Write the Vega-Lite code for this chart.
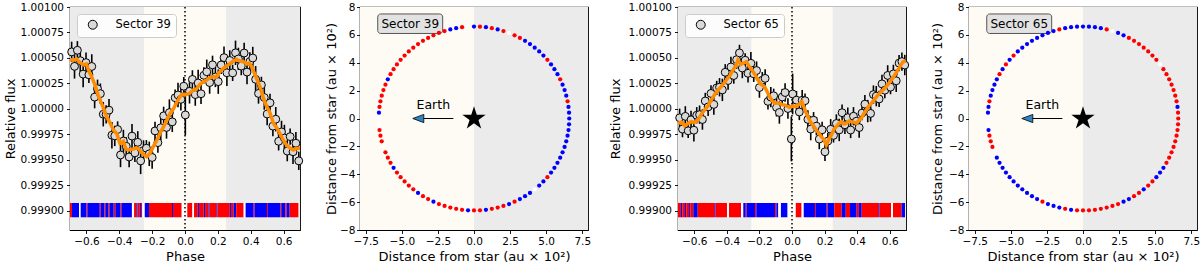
{
"$schema":"https://vega.github.io/schema/vega-lite/v6.json",
"padding":{"left":3,"top":1,"right":0,"bottom":0},
"spacing":16,
"config":{
 "font":"DejaVu Sans",
 "view":{"stroke":"black","strokeWidth":1.2},
 "axis":{"grid":false,"domain":false,"tickColor":"black","tickSize":3.5,"tickWidth":0.9,"labelColor":"black","labelFontSize":10.5,"labelFont":"DejaVu Sans","titleFont":"DejaVu Sans","titleFontSize":13,"titleFontWeight":"normal","titleColor":"black","labelPadding":3,"titlePadding":3,"labelFlush":false,"labelOverlap":false,"labelSeparation":0,"tickCount":30},
 "legend":{"orient":"top-left","offset":7,"padding":5,"fillColor":"rgba(255,255,255,0.85)","strokeColor":"#cccccc","cornerRadius":3,"symbolType":"circle","symbolSize":80,"symbolStrokeColor":"black","symbolStrokeWidth":1,"symbolOffset":5,"labelFontSize":11.5,"labelOffset":17,"labelColor":"black","labelFont":"DejaVu Sans"}
},
"resolve":{"scale":{"color":"independent","fill":"independent"},"legend":{"fill":"independent","color":"independent"}},
"datasets":{
"lc39":[
{"p":-0.69,"f":1.000559,"e":0.0001},{"p":-0.6725,"f":1.000417,"e":0.00012},{"p":-0.655,"f":1.000575,"e":0.00009},{"p":-0.6375,"f":1.000473,"e":0.00011},{"p":-0.62,"f":1.000341,"e":0.00013},{"p":-0.6025,"f":1.000454,"e":0.0001},{"p":-0.585,"f":1.000334,"e":0.00008},{"p":-0.5675,"f":1.000416,"e":0.00012},{"p":-0.55,"f":1.000115,"e":0.00011},{"p":-0.5325,"f":1.000197,"e":0.00009},
{"p":-0.515,"f":1.000149,"e":0.0001},{"p":-0.4975,"f":0.999947,"e":0.00012},{"p":-0.48,"f":0.999945,"e":0.00009},{"p":-0.4625,"f":0.999987,"e":0.00011},{"p":-0.445,"f":0.999741,"e":0.00013},{"p":-0.4275,"f":0.999734,"e":0.0001},{"p":-0.41,"f":0.999797,"e":0.00008},{"p":-0.3925,"f":0.999547,"e":0.00012},{"p":-0.375,"f":0.999684,"e":0.00011},{"p":-0.3575,"f":0.999632,"e":0.00009},
{"p":-0.34,"f":0.999527,"e":0.0001},{"p":-0.3225,"f":0.999732,"e":0.00012},{"p":-0.305,"f":0.999567,"e":0.00009},{"p":-0.2875,"f":0.999671,"e":0.00011},{"p":-0.27,"f":0.999489,"e":0.00013},{"p":-0.2525,"f":0.999591,"e":0.0001},{"p":-0.235,"f":0.999613,"e":0.00008},{"p":-0.2175,"f":0.999558,"e":0.00012},{"p":-0.2,"f":0.999522,"e":0.00011},{"p":-0.1825,"f":0.999783,"e":0.00009},
{"p":-0.165,"f":0.999668,"e":0.0001},{"p":-0.1475,"f":0.999814,"e":0.00012},{"p":-0.13,"f":0.999931,"e":0.00009},{"p":-0.1125,"f":0.999817,"e":0.00011},{"p":-0.095,"f":0.999963,"e":0.00013},{"p":-0.0775,"f":0.999872,"e":0.0001},{"p":-0.06,"f":1.000109,"e":0.00008},{"p":-0.0425,"f":1.000136,"e":0.00012},{"p":-0.025,"f":1.000093,"e":0.00011},{"p":-0.0075,"f":1.000222,"e":0.00009},
{"p":0.002,"f":0.99994,"e":0.0002},{"p":0.0275,"f":1.000172,"e":0.00012},{"p":0.045,"f":1.000289,"e":0.00009},{"p":0.0625,"f":1.00014,"e":0.00011},{"p":0.08,"f":1.000254,"e":0.00013},{"p":0.0975,"f":1.000148,"e":0.0001},{"p":0.115,"f":1.000329,"e":0.00008},{"p":0.1325,"f":1.000364,"e":0.00012},{"p":0.15,"f":1.000258,"e":0.00011},{"p":0.1675,"f":1.000432,"e":0.00009},
{"p":0.185,"f":1.000313,"e":0.0001},{"p":0.2025,"f":1.000267,"e":0.00012},{"p":0.22,"f":1.000431,"e":0.00009},{"p":0.2375,"f":1.000503,"e":0.00011},{"p":0.255,"f":1.000354,"e":0.00013},{"p":0.2725,"f":1.000475,"e":0.0001},{"p":0.29,"f":1.000353,"e":0.00008},{"p":0.3075,"f":1.00055,"e":0.00012},{"p":0.325,"f":1.00049,"e":0.00011},{"p":0.3425,"f":1.00042,"e":0.00009},
{"p":0.36,"f":1.000548,"e":0.0001},{"p":0.3775,"f":1.000361,"e":0.00012},{"p":0.395,"f":1.000465,"e":0.00009},{"p":0.4125,"f":1.000499,"e":0.00011},{"p":0.43,"f":1.00029,"e":0.00013},{"p":0.4475,"f":1.000151,"e":0.0001},{"p":0.465,"f":1.000235,"e":0.00008},{"p":0.4825,"f":1.000111,"e":0.00012},{"p":0.5,"f":0.999949,"e":0.00011},{"p":0.5175,"f":1.000059,"e":0.00009},
{"p":0.535,"f":0.99983,"e":0.0001},{"p":0.5525,"f":0.999898,"e":0.00012},{"p":0.57,"f":0.999681,"e":0.00009},{"p":0.5875,"f":0.999773,"e":0.00011},{"p":0.605,"f":0.999713,"e":0.00013},{"p":0.6225,"f":0.999585,"e":0.0001},{"p":0.64,"f":0.999727,"e":0.00008},{"p":0.6575,"f":0.999578,"e":0.00012},{"p":0.675,"f":0.999662,"e":0.00011},{"p":0.6925,"f":0.999489,"e":0.00009}
],
"lc65":[
{"p":-0.69,"f":0.999912,"e":0.00009},{"p":-0.6725,"f":0.999801,"e":0.00008},{"p":-0.655,"f":0.999926,"e":0.0001},{"p":-0.6375,"f":0.999784,"e":0.00007},{"p":-0.62,"f":0.999892,"e":0.00009},{"p":-0.6025,"f":0.99979,"e":0.00011},{"p":-0.585,"f":0.999937,"e":0.00008},{"p":-0.5675,"f":0.999943,"e":0.00009},{"p":-0.55,"f":0.999895,"e":0.0001},{"p":-0.5325,"f":1.000077,"e":0.00008},
{"p":-0.515,"f":1.000019,"e":0.00009},{"p":-0.4975,"f":1.000151,"e":0.00008},{"p":-0.48,"f":1.000043,"e":0.0001},{"p":-0.4625,"f":1.000205,"e":0.00007},{"p":-0.445,"f":1.000212,"e":0.00009},{"p":-0.4275,"f":1.000186,"e":0.00011},{"p":-0.41,"f":1.000359,"e":0.00008},{"p":-0.3925,"f":1.000278,"e":0.00009},{"p":-0.375,"f":1.000411,"e":0.0001},{"p":-0.3575,"f":1.000327,"e":0.00008},
{"p":-0.34,"f":1.000483,"e":0.00009},{"p":-0.3225,"f":1.000549,"e":0.00008},{"p":-0.305,"f":1.000401,"e":0.0001},{"p":-0.2875,"f":1.000477,"e":0.00007},{"p":-0.27,"f":1.000349,"e":0.00009},{"p":-0.2525,"f":1.000447,"e":0.00011},{"p":-0.235,"f":1.000344,"e":0.00008},{"p":-0.2175,"f":1.000376,"e":0.00009},{"p":-0.2,"f":1.000209,"e":0.0001},{"p":-0.1825,"f":1.000281,"e":0.00008},
{"p":-0.165,"f":1.000299,"e":0.00009},{"p":-0.1475,"f":1.000073,"e":0.00008},{"p":-0.13,"f":1.000115,"e":0.0001},{"p":-0.1125,"f":1.000128,"e":0.00007},{"p":-0.095,"f":1.000014,"e":0.00009},{"p":-0.0775,"f":0.999964,"e":0.00011},{"p":-0.06,"f":1.000116,"e":0.00008},{"p":-0.0425,"f":1.00016,"e":0.00009},{"p":-0.025,"f":1.000003,"e":0.0001},{"p":-0.004,"f":0.999704,"e":0.00022},
{"p":0.004,"f":1.000146,"e":0.0002},{"p":0.0275,"f":1.000085,"e":0.00009},{"p":0.045,"f":0.999969,"e":0.00008},{"p":0.0625,"f":1.000084,"e":0.0001},{"p":0.08,"f":1.00008,"e":0.00007},{"p":0.0975,"f":0.999896,"e":0.00009},{"p":0.115,"f":0.999801,"e":0.00011},{"p":0.1325,"f":0.999888,"e":0.00008},{"p":0.15,"f":0.99983,"e":0.00009},{"p":0.1675,"f":0.999703,"e":0.0001},
{"p":0.185,"f":0.999794,"e":0.00008},{"p":0.2025,"f":0.999578,"e":0.00009},{"p":0.22,"f":0.999683,"e":0.00008},{"p":0.2375,"f":0.999799,"e":0.0001},{"p":0.255,"f":0.999739,"e":0.00007},{"p":0.2725,"f":0.999856,"e":0.00009},{"p":0.29,"f":0.999793,"e":0.00011},{"p":0.3075,"f":0.999962,"e":0.00008},{"p":0.325,"f":0.999843,"e":0.00009},{"p":0.3425,"f":0.999913,"e":0.0001},
{"p":0.36,"f":0.999792,"e":0.00008},{"p":0.3775,"f":0.999927,"e":0.00009},{"p":0.395,"f":0.999878,"e":0.00008},{"p":0.4125,"f":0.999816,"e":0.0001},{"p":0.43,"f":0.999958,"e":0.00007},{"p":0.4475,"f":1.000046,"e":0.00009},{"p":0.465,"f":0.999978,"e":0.00011},{"p":0.4825,"f":0.999955,"e":0.00008},{"p":0.5,"f":1.00014,"e":0.00009},{"p":0.5175,"f":1.000125,"e":0.0001},
{"p":0.535,"f":1.000097,"e":0.00008},{"p":0.5525,"f":1.000245,"e":0.00009},{"p":0.57,"f":1.000183,"e":0.00008},{"p":0.5875,"f":1.000328,"e":0.0001},{"p":0.605,"f":1.000213,"e":0.00007},{"p":0.6225,"f":1.000343,"e":0.00009},{"p":0.64,"f":1.000275,"e":0.00011},{"p":0.6575,"f":1.000449,"e":0.00008},{"p":0.675,"f":1.000464,"e":0.00009},{"p":0.6925,"f":1.00043,"e":0.0001}
],
"bin39":[
{"p":-0.7,"f":1.000486},{"p":-0.68,"f":1.000475},{"p":-0.66,"f":1.00049},{"p":-0.64,"f":1.000455},{"p":-0.619,"f":1.000431},{"p":-0.6,"f":1.00044},{"p":-0.585,"f":1.00037},{"p":-0.568,"f":1.000316},{"p":-0.545,"f":1.00022},{"p":-0.53,"f":1.00014},{"p":-0.517,"f":1.000087},{"p":-0.497,"f":1.00001},{"p":-0.477,"f":0.999923},{"p":-0.456,"f":0.99986},{"p":-0.436,"f":0.999792},{"p":-0.415,"f":0.999755},{"p":-0.396,"f":0.999661},{"p":-0.375,"f":0.99968},{"p":-0.36,"f":0.999605},{"p":-0.345,"f":0.999596},{"p":-0.32,"f":0.999602},{"p":-0.3,"f":0.999615},{"p":-0.284,"f":0.999612},{"p":-0.265,"f":0.99957},{"p":-0.25,"f":0.99955},{"p":-0.233,"f":0.99953},{"p":-0.215,"f":0.99956},{"p":-0.193,"f":0.999629},{"p":-0.172,"f":0.99969},{"p":-0.152,"f":0.99976},{"p":-0.13,"f":0.999825},{"p":-0.11,"f":0.99989},{"p":-0.091,"f":0.999956},{"p":-0.07,"f":1.0},{"p":-0.05,"f":1.000065},{"p":-0.03,"f":1.00012},{"p":-0.015,"f":1.000145},{"p":0,"f":1.000136},{"p":0.025,"f":1.00015},{"p":0.051,"f":1.000185},{"p":0.07,"f":1.000195},{"p":0.09,"f":1.00024},{"p":0.112,"f":1.000267},{"p":0.13,"f":1.00028},{"p":0.15,"f":1.000305},{"p":0.172,"f":1.000316},{"p":0.19,"f":1.00031},{"p":0.21,"f":1.00036},{"p":0.233,"f":1.000398},{"p":0.255,"f":1.00042},{"p":0.274,"f":1.000447},{"p":0.295,"f":1.00047},{"p":0.314,"f":1.000486},{"p":0.335,"f":1.00047},{"p":0.355,"f":1.000463},{"p":0.375,"f":1.00044},{"p":0.39,"f":1.00045},{"p":0.406,"f":1.000414},{"p":0.43,"f":1.00032},{"p":0.456,"f":1.000218},{"p":0.475,"f":1.00012},{"p":0.497,"f":1.000021},{"p":0.515,"f":0.99997},{"p":0.538,"f":0.999858},{"p":0.56,"f":0.99981},{"p":0.58,"f":0.99975},{"p":0.598,"f":0.999694},{"p":0.62,"f":0.99964},{"p":0.64,"f":0.999615},{"p":0.659,"f":0.999596},{"p":0.68,"f":0.99961},{"p":0.7,"f":0.999612}
],
"bin65":[
{"p":-0.7,"f":0.999858},{"p":-0.68,"f":0.99987},{"p":-0.659,"f":0.999832},{"p":-0.64,"f":0.999855},{"p":-0.618,"f":0.999874},{"p":-0.6,"f":0.999865},{"p":-0.577,"f":0.99989},{"p":-0.555,"f":0.99995},{"p":-0.536,"f":0.999989},{"p":-0.515,"f":1.00003},{"p":-0.495,"f":1.000087},{"p":-0.475,"f":1.00014},{"p":-0.454,"f":1.000185},{"p":-0.43,"f":1.000225},{"p":-0.403,"f":1.000283},{"p":-0.38,"f":1.00033},{"p":-0.362,"f":1.000382},{"p":-0.345,"f":1.00042},{"p":-0.332,"f":1.000479},{"p":-0.315,"f":1.000435},{"p":-0.301,"f":1.000447},{"p":-0.29,"f":1.000455},{"p":-0.28,"f":1.000463},{"p":-0.26,"f":1.00041},{"p":-0.239,"f":1.000365},{"p":-0.225,"f":1.00033},{"p":-0.209,"f":1.000283},{"p":-0.19,"f":1.00024},{"p":-0.168,"f":1.000218},{"p":-0.15,"f":1.00016},{"p":-0.137,"f":1.00012},{"p":-0.12,"f":1.000075},{"p":-0.106,"f":1.000054},{"p":-0.09,"f":1.00006},{"p":-0.076,"f":1.000054},{"p":-0.06,"f":1.00004},{"p":-0.045,"f":1.000038},{"p":-0.03,"f":1.000025},{"p":-0.014,"f":1.000015},{"p":0.006,"f":1.000028},{"p":0.02,"f":1.00002},{"p":0.037,"f":1.000038},{"p":0.05,"f":1.00005},{"p":0.061,"f":1.00007},{"p":0.075,"f":1.00001},{"p":0.088,"f":0.999956},{"p":0.105,"f":0.9999},{"p":0.119,"f":0.999858},{"p":0.135,"f":0.999825},{"p":0.149,"f":0.999792},{"p":0.165,"f":0.99976},{"p":0.18,"f":0.999727},{"p":0.195,"f":0.9997},{"p":0.211,"f":0.999645},{"p":0.226,"f":0.9997},{"p":0.242,"f":0.999743},{"p":0.258,"f":0.9998},{"p":0.272,"f":0.999825},{"p":0.29,"f":0.99986},{"p":0.303,"f":0.999874},{"p":0.32,"f":0.99985},{"p":0.334,"f":0.999858},{"p":0.35,"f":0.99988},{"p":0.364,"f":0.999874},{"p":0.38,"f":0.99987},{"p":0.395,"f":0.999858},{"p":0.41,"f":0.999885},{"p":0.426,"f":0.999907},{"p":0.44,"f":0.99995},{"p":0.456,"f":0.999989},{"p":0.47,"f":1.000025},{"p":0.487,"f":1.000054},{"p":0.505,"f":1.00009},{"p":0.528,"f":1.000136},{"p":0.55,"f":1.00017},{"p":0.569,"f":1.000201},{"p":0.59,"f":1.00024},{"p":0.61,"f":1.000283},{"p":0.63,"f":1.00033},{"p":0.651,"f":1.000382},{"p":0.665,"f":1.00042},{"p":0.682,"f":1.000463},{"p":0.7,"f":1.00047}
],
"st39":[
{"p":-0.7,"p2":-0.688,"c":"r"},{"p":-0.688,"p2":-0.645,"c":"b"},{"p":-0.645,"p2":-0.635,"c":"w"},{"p":-0.635,"p2":-0.6,"c":"b"},{"p":-0.6,"p2":-0.594,"c":"r"},{"p":-0.594,"p2":-0.519,"c":"b"},{"p":-0.519,"p2":-0.513,"c":"r"},{"p":-0.513,"p2":-0.491,"c":"b"},{"p":-0.491,"p2":-0.485,"c":"r"},{"p":-0.485,"p2":-0.467,"c":"b"},{"p":-0.467,"p2":-0.46,"c":"r"},{"p":-0.46,"p2":-0.434,"c":"b"},{"p":-0.434,"p2":-0.424,"c":"r"},{"p":-0.424,"p2":-0.394,"c":"b"},{"p":-0.394,"p2":-0.387,"c":"r"},{"p":-0.387,"p2":-0.323,"c":"b"},{"p":-0.323,"p2":-0.31,"c":"w"},{"p":-0.31,"p2":-0.296,"c":"r"},{"p":-0.296,"p2":-0.29,"c":"b"},{"p":-0.29,"p2":-0.276,"c":"r"},{"p":-0.276,"p2":-0.268,"c":"b"},{"p":-0.268,"p2":-0.26,"c":"r"},{"p":-0.26,"p2":-0.245,"c":"w"},{"p":-0.245,"p2":-0.219,"c":"b"},{"p":-0.219,"p2":-0.079,"c":"r"},{"p":-0.079,"p2":-0.073,"c":"b"},{"p":-0.073,"p2":-0.02,"c":"r"},{"p":-0.02,"p2":0.014,"c":"w"},{"p":0.014,"p2":0.045,"c":"r"},{"p":0.045,"p2":0.055,"c":"w"},{"p":0.055,"p2":0.077,"c":"r"},{"p":0.077,"p2":0.085,"c":"b"},{"p":0.085,"p2":0.114,"c":"r"},{"p":0.114,"p2":0.122,"c":"b"},{"p":0.122,"p2":0.144,"c":"r"},{"p":0.144,"p2":0.15,"c":"b"},{"p":0.15,"p2":0.191,"c":"r"},{"p":0.191,"p2":0.197,"c":"b"},{"p":0.197,"p2":0.272,"c":"r"},{"p":0.272,"p2":0.28,"c":"b"},{"p":0.28,"p2":0.296,"c":"r"},{"p":0.296,"p2":0.312,"c":"b"},{"p":0.312,"p2":0.357,"c":"r"},{"p":0.357,"p2":0.369,"c":"w"},{"p":0.369,"p2":0.418,"c":"b"},{"p":0.418,"p2":0.424,"c":"r"},{"p":0.424,"p2":0.499,"c":"b"},{"p":0.499,"p2":0.505,"c":"r"},{"p":0.505,"p2":0.58,"c":"b"},{"p":0.58,"p2":0.586,"c":"r"},{"p":0.586,"p2":0.611,"c":"b"},{"p":0.611,"p2":0.619,"c":"r"},{"p":0.619,"p2":0.637,"c":"b"},{"p":0.637,"p2":0.69,"c":"r"}
],
"st65":[
{"p":-0.7,"p2":-0.682,"c":"r"},{"p":-0.682,"p2":-0.673,"c":"b"},{"p":-0.673,"p2":-0.657,"c":"r"},{"p":-0.657,"p2":-0.649,"c":"b"},{"p":-0.649,"p2":-0.632,"c":"r"},{"p":-0.632,"p2":-0.624,"c":"b"},{"p":-0.624,"p2":-0.606,"c":"r"},{"p":-0.606,"p2":-0.579,"c":"b"},{"p":-0.579,"p2":-0.477,"c":"r"},{"p":-0.477,"p2":-0.471,"c":"b"},{"p":-0.471,"p2":-0.399,"c":"r"},{"p":-0.399,"p2":-0.387,"c":"w"},{"p":-0.387,"p2":-0.313,"c":"r"},{"p":-0.313,"p2":-0.299,"c":"w"},{"p":-0.299,"p2":-0.284,"c":"b"},{"p":-0.284,"p2":-0.278,"c":"r"},{"p":-0.278,"p2":-0.227,"c":"b"},{"p":-0.227,"p2":-0.219,"c":"r"},{"p":-0.219,"p2":-0.104,"c":"b"},{"p":-0.104,"p2":-0.096,"c":"r"},{"p":-0.096,"p2":-0.084,"c":"b"},{"p":-0.084,"p2":-0.068,"c":"w"},{"p":-0.068,"p2":-0.027,"c":"b"},{"p":-0.027,"p2":0.023,"c":"w"},{"p":0.023,"p2":0.059,"c":"r"},{"p":0.059,"p2":0.072,"c":"w"},{"p":0.072,"p2":0.141,"c":"b"},{"p":0.141,"p2":0.147,"c":"r"},{"p":0.147,"p2":0.213,"c":"b"},{"p":0.213,"p2":0.219,"c":"r"},{"p":0.219,"p2":0.26,"c":"b"},{"p":0.26,"p2":0.305,"c":"r"},{"p":0.305,"p2":0.33,"c":"b"},{"p":0.33,"p2":0.356,"c":"r"},{"p":0.356,"p2":0.397,"c":"b"},{"p":0.397,"p2":0.411,"c":"r"},{"p":0.411,"p2":0.428,"c":"b"},{"p":0.428,"p2":0.53,"c":"r"},{"p":0.53,"p2":0.536,"c":"b"},{"p":0.536,"p2":0.608,"c":"r"},{"p":0.608,"p2":0.62,"c":"w"},{"p":0.62,"p2":0.673,"c":"r"},{"p":0.673,"p2":0.694,"c":"b"}
],
"orbit":[
{"x":6.6,"y":0,"a":"b","b":"r"},{"x":6.587,"y":0.414,"a":"b","b":"r"},{"x":6.548,"y":0.827,"a":"b","b":"b"},{"x":6.483,"y":1.237,"a":"r","b":"r"},{"x":6.393,"y":1.641,"a":"b","b":"r"},{"x":6.277,"y":2.04,"a":"b","b":"r"},{"x":6.137,"y":2.43,"a":"b","b":"r"},{"x":5.972,"y":2.81,"a":"r","b":"r"},{"x":5.784,"y":3.18,"a":"b","b":"r"},{"x":5.573,"y":3.536,"a":"b","b":"r"},
{"x":5.34,"y":3.879,"a":"b","b":"w"},{"x":5.085,"y":4.207,"a":"r","b":"r"},{"x":4.811,"y":4.518,"a":"b","b":"r"},{"x":4.518,"y":4.811,"a":"b","b":"r"},{"x":4.207,"y":5.085,"a":"b","b":"r"},{"x":3.879,"y":5.34,"a":"b","b":"r"},{"x":3.536,"y":5.573,"a":"b","b":"r"},{"x":3.18,"y":5.784,"a":"r","b":"r"},{"x":2.81,"y":5.972,"a":"r","b":"b"},{"x":2.43,"y":6.137,"a":"w","b":"b"},
{"x":2.04,"y":6.277,"a":"r","b":"w"},{"x":1.641,"y":6.393,"a":"b","b":"r"},{"x":1.237,"y":6.483,"a":"r","b":"b"},{"x":0.827,"y":6.548,"a":"b","b":"b"},{"x":0.414,"y":6.587,"a":"r","b":"b"},{"x":0,"y":6.6,"a":"b","b":"b"},{"x":-0.414,"y":6.587,"a":"w","b":"b"},{"x":-0.827,"y":6.548,"a":"r","b":"b"},{"x":-1.237,"y":6.483,"a":"b","b":"b"},{"x":-1.641,"y":6.393,"a":"b","b":"r"},
{"x":-2.04,"y":6.277,"a":"r","b":"b"},{"x":-2.43,"y":6.137,"a":"r","b":"b"},{"x":-2.81,"y":5.972,"a":"r","b":"b"},{"x":-3.18,"y":5.784,"a":"r","b":"b"},{"x":-3.536,"y":5.573,"a":"r","b":"b"},{"x":-3.879,"y":5.34,"a":"r","b":"b"},{"x":-4.207,"y":5.085,"a":"r","b":"b"},{"x":-4.518,"y":4.811,"a":"r","b":"b"},{"x":-4.811,"y":4.518,"a":"r","b":"r"},{"x":-5.085,"y":4.207,"a":"r","b":"b"},
{"x":-5.34,"y":3.879,"a":"r","b":"r"},{"x":-5.573,"y":3.536,"a":"r","b":"b"},{"x":-5.784,"y":3.18,"a":"r","b":"r"},{"x":-5.972,"y":2.81,"a":"b","b":"b"},{"x":-6.137,"y":2.43,"a":"r","b":"b"},{"x":-6.277,"y":2.04,"a":"r","b":"b"},{"x":-6.393,"y":1.641,"a":"r","b":"b"},{"x":-6.483,"y":1.237,"a":"r","b":"r"},{"x":-6.548,"y":0.827,"a":"r","b":"b"},{"x":-6.587,"y":0.414,"a":"b","b":"b"},
{"x":-6.6,"y":0,"a":"w","b":"w"},{"x":-6.587,"y":-0.414,"a":"w","b":"w"},{"x":-6.548,"y":-0.827,"a":"r","b":"b"},{"x":-6.483,"y":-1.237,"a":"r","b":"r"},{"x":-6.393,"y":-1.641,"a":"r","b":"r"},{"x":-6.277,"y":-2.04,"a":"w","b":"r"},{"x":-6.137,"y":-2.43,"a":"r","b":"w"},{"x":-5.972,"y":-2.81,"a":"r","b":"b"},{"x":-5.784,"y":-3.18,"a":"r","b":"b"},{"x":-5.573,"y":-3.536,"a":"b","b":"b"},
{"x":-5.34,"y":-3.879,"a":"r","b":"b"},{"x":-5.085,"y":-4.207,"a":"r","b":"b"},{"x":-4.811,"y":-4.518,"a":"r","b":"b"},{"x":-4.518,"y":-4.811,"a":"r","b":"b"},{"x":-4.207,"y":-5.085,"a":"r","b":"b"},{"x":-3.879,"y":-5.34,"a":"b","b":"b"},{"x":-3.536,"y":-5.573,"a":"r","b":"b"},{"x":-3.18,"y":-5.784,"a":"r","b":"b"},{"x":-2.81,"y":-5.972,"a":"b","b":"r"},{"x":-2.43,"y":-6.137,"a":"r","b":"b"},
{"x":-2.04,"y":-6.277,"a":"r","b":"b"},{"x":-1.641,"y":-6.393,"a":"r","b":"b"},{"x":-1.237,"y":-6.483,"a":"r","b":"r"},{"x":-0.827,"y":-6.548,"a":"r","b":"b"},{"x":-0.414,"y":-6.587,"a":"b","b":"r"},{"x":0,"y":-6.6,"a":"r","b":"r"},{"x":0.414,"y":-6.587,"a":"r","b":"r"},{"x":0.827,"y":-6.548,"a":"b","b":"r"},{"x":1.237,"y":-6.483,"a":"r","b":"r"},{"x":1.641,"y":-6.393,"a":"r","b":"r"},
{"x":2.04,"y":-6.277,"a":"r","b":"r"},{"x":2.43,"y":-6.137,"a":"b","b":"r"},{"x":2.81,"y":-5.972,"a":"r","b":"b"},{"x":3.18,"y":-5.784,"a":"b","b":"b"},{"x":3.536,"y":-5.573,"a":"b","b":"r"},{"x":3.879,"y":-5.34,"a":"b","b":"r"},{"x":4.207,"y":-5.085,"a":"w","b":"b"},{"x":4.518,"y":-4.811,"a":"b","b":"r"},{"x":4.811,"y":-4.518,"a":"b","b":"r"},{"x":5.085,"y":-4.207,"a":"r","b":"b"},
{"x":5.34,"y":-3.879,"a":"b","b":"b"},{"x":5.573,"y":-3.536,"a":"b","b":"b"},{"x":5.784,"y":-3.18,"a":"b","b":"r"},{"x":5.972,"y":-2.81,"a":"b","b":"r"},{"x":6.137,"y":-2.43,"a":"b","b":"r"},{"x":6.277,"y":-2.04,"a":"b","b":"r"},{"x":6.393,"y":-1.641,"a":"b","b":"r"},{"x":6.483,"y":-1.237,"a":"b","b":"r"},{"x":6.548,"y":-0.827,"a":"b","b":"r"},{"x":6.587,"y":-0.414,"a":"b","b":"r"}
]
},
"hconcat":[
{
 "width":230,"height":223,
 "layer":[
  {"data":{"values":[{}]},"mark":{"type":"rect","color":"#ebebeb"},"encoding":{
    "x":{"datum":-0.7,"type":"quantitative","scale":{"domain":[-0.7,0.7],"nice":false,"zero":false},"axis":{"values":[-0.6,-0.4,-0.2,0,0.2,0.4,0.6],"format":".1f","title":"Phase","labelOverlap":false,"tickCount":30}},
    "x2":{"datum":0.7},
    "y":{"datum":1.001,"type":"quantitative","scale":{"domain":[0.99881,1.001],"nice":false,"zero":false},"axis":{"values":[0.999,0.99925,0.9995,0.99975,1,1.00025,1.0005,1.00075,1.001],"format":".5f","title":"Relative flux","labelOverlap":false,"tickCount":30}},
    "y2":{"datum":0.99881}}},
  {"data":{"values":[{}]},"mark":{"type":"rect","color":"#fdfbf4"},"encoding":{"x":{"datum":-0.25},"x2":{"datum":0.25},"y":{"datum":1.001},"y2":{"datum":0.99881}}},
  {"data":{"name":"st39"},"mark":{"type":"rect"},"encoding":{"x":{"field":"p","type":"quantitative","title":"Phase"},"x2":{"field":"p2"},"y":{"datum":0.999075},"y2":{"datum":0.998935},"color":{"field":"c","type":"nominal","scale":{"domain":["r","b","w"],"range":["#ff0000","#0000ff","#ffffff"]},"legend":null}}},
  {"data":{"values":[{}]},"mark":{"type":"rule","color":"black","strokeWidth":1.5,"strokeDash":[1.5,2.5]},"encoding":{"x":{"datum":0}}},
  {"data":{"name":"lc39"},"mark":{"type":"errorbar","color":"black","thickness":1.6},"encoding":{"x":{"field":"p","type":"quantitative","title":"Phase"},"y":{"field":"f","type":"quantitative","title":"Relative flux"},"yError":{"field":"e"}}},
  {"data":{"name":"lc39"},"mark":{"type":"point","filled":true,"stroke":"black","strokeWidth":1,"size":62,"opacity":1},"encoding":{"x":{"field":"p","type":"quantitative","title":"Phase"},"y":{"field":"f","type":"quantitative","title":"Relative flux"},"fill":{"datum":"Sector 39","type":"nominal","scale":{"range":["#d9d9d9"]},"legend":{}}}},
  {"data":{"name":"bin39"},"mark":{"type":"line","color":"#ff8c00","strokeWidth":3.5},"encoding":{"x":{"field":"p","type":"quantitative","title":"Phase"},"y":{"field":"f","type":"quantitative","title":"Relative flux"}}}
 ]
},
{
 "width":228,"height":223,
 "layer":[
  {"data":{"values":[{}]},"mark":{"type":"rect","color":"#fdfbf4"},"encoding":{
    "x":{"datum":-7.9,"type":"quantitative","scale":{"domain":[-7.9,7.9],"nice":false,"zero":false},"axis":{"values":[-7.5,-5,-2.5,0,2.5,5,7.5],"format":".1f","title":"Distance from star (au × 10²)","labelOverlap":false,"tickCount":30}},
    "x2":{"datum":0},
    "y":{"datum":8,"type":"quantitative","scale":{"domain":[-8,8],"nice":false,"zero":false},"axis":{"values":[-8,-6,-4,-2,0,2,4,6,8],"format":"d","title":"Distance from star (au × 10²)","labelOverlap":false,"tickCount":30,"labelPadding":1.5,"titlePadding":1.5}},
    "y2":{"datum":-8}}},
  {"data":{"values":[{}]},"mark":{"type":"rect","color":"#ebebeb"},"encoding":{"x":{"datum":0},"x2":{"datum":7.9},"y":{"datum":8},"y2":{"datum":-8}}},
  {"data":{"values":[{}]},"mark":{"type":"rect","fill":"#e2e2e2","stroke":"#555555","strokeWidth":1,"cornerRadius":3},"encoding":{"x":{"datum":-6.67},"x2":{"datum":-2.17},"y":{"datum":7.5},"y2":{"datum":6.1}}},
  {"data":{"values":[{}]},"mark":{"type":"text","text":"Sector 39","fontSize":12,"color":"black"},"encoding":{"x":{"datum":-4.42},"y":{"datum":6.8}}},
  {"data":{"values":[{}]},"mark":{"type":"rule","color":"black","strokeWidth":1},"encoding":{"x":{"datum":-1.43},"x2":{"datum":-3.6},"y":{"datum":0}}},
  {"data":{"values":[{}]},"mark":{"type":"point","shape":"M1,-0.75L-1,0L1,0.75Z","filled":true,"fill":"#2f84c4","stroke":"black","strokeWidth":0.8,"size":121,"opacity":1},"encoding":{"x":{"datum":-3.86},"y":{"datum":0}}},
  {"data":{"values":[{}]},"mark":{"type":"text","text":"Earth","fontSize":12.5,"color":"black"},"encoding":{"x":{"datum":-2.82},"y":{"datum":0.95}}},
  {"data":{"name":"orbit"},"mark":{"type":"circle","size":18,"opacity":1},"encoding":{"x":{"field":"x","type":"quantitative","title":"Distance from star (au × 10²)"},"y":{"field":"y","type":"quantitative","title":"Distance from star (au × 10²)"},"color":{"field":"a","type":"nominal","scale":{"domain":["r","b","w"],"range":["#ff0000","#0000ff","#ffffff"]},"legend":null}}},
  {"data":{"values":[{}]},"mark":{"type":"point","shape":"M0,-1L0.2245,-0.309L0.951,-0.309L0.363,0.118L0.588,0.809L0,0.382L-0.588,0.809L-0.363,0.118L-0.951,-0.309L-0.2245,-0.309Z","filled":true,"color":"black","size":600,"opacity":1},"encoding":{"x":{"datum":0},"y":{"datum":0}}}
 ]
},
{
 "width":228,"height":223,
 "layer":[
  {"data":{"values":[{}]},"mark":{"type":"rect","color":"#ebebeb"},"encoding":{
    "x":{"datum":-0.7,"type":"quantitative","scale":{"domain":[-0.7,0.7],"nice":false,"zero":false},"axis":{"values":[-0.6,-0.4,-0.2,0,0.2,0.4,0.6],"format":".1f","title":"Phase","labelOverlap":false,"tickCount":30}},
    "x2":{"datum":0.7},
    "y":{"datum":1.001,"type":"quantitative","scale":{"domain":[0.99881,1.001],"nice":false,"zero":false},"axis":{"values":[0.999,0.99925,0.9995,0.99975,1,1.00025,1.0005,1.00075,1.001],"format":".5f","title":"Relative flux","labelOverlap":false,"tickCount":30,"titlePadding":6}},
    "y2":{"datum":0.99881}}},
  {"data":{"values":[{}]},"mark":{"type":"rect","color":"#fdfbf4"},"encoding":{"x":{"datum":-0.25},"x2":{"datum":0.25},"y":{"datum":1.001},"y2":{"datum":0.99881}}},
  {"data":{"name":"st65"},"mark":{"type":"rect"},"encoding":{"x":{"field":"p","type":"quantitative","title":"Phase"},"x2":{"field":"p2"},"y":{"datum":0.999075},"y2":{"datum":0.998935},"color":{"field":"c","type":"nominal","scale":{"domain":["r","b","w"],"range":["#ff0000","#0000ff","#ffffff"]},"legend":null}}},
  {"data":{"values":[{}]},"mark":{"type":"rule","color":"black","strokeWidth":1.5,"strokeDash":[1.5,2.5]},"encoding":{"x":{"datum":0}}},
  {"data":{"name":"lc65"},"mark":{"type":"errorbar","color":"black","thickness":1.6},"encoding":{"x":{"field":"p","type":"quantitative","title":"Phase"},"y":{"field":"f","type":"quantitative","title":"Relative flux"},"yError":{"field":"e"}}},
  {"data":{"name":"lc65"},"mark":{"type":"point","filled":true,"stroke":"black","strokeWidth":1,"size":62,"opacity":1},"encoding":{"x":{"field":"p","type":"quantitative","title":"Phase"},"y":{"field":"f","type":"quantitative","title":"Relative flux"},"fill":{"datum":"Sector 65","type":"nominal","scale":{"range":["#d9d9d9"]},"legend":{}}}},
  {"data":{"name":"bin65"},"mark":{"type":"line","color":"#ff8c00","strokeWidth":3.5},"encoding":{"x":{"field":"p","type":"quantitative","title":"Phase"},"y":{"field":"f","type":"quantitative","title":"Relative flux"}}}
 ]
},
{
 "width":228,"height":223,
 "layer":[
  {"data":{"values":[{}]},"mark":{"type":"rect","color":"#fdfbf4"},"encoding":{
    "x":{"datum":-7.9,"type":"quantitative","scale":{"domain":[-7.9,7.9],"nice":false,"zero":false},"axis":{"values":[-7.5,-5,-2.5,0,2.5,5,7.5],"format":".1f","title":"Distance from star (au × 10²)","labelOverlap":false,"tickCount":30}},
    "x2":{"datum":0},
    "y":{"datum":8,"type":"quantitative","scale":{"domain":[-8,8],"nice":false,"zero":false},"axis":{"values":[-8,-6,-4,-2,0,2,4,6,8],"format":"d","title":"Distance from star (au × 10²)","labelOverlap":false,"tickCount":30,"labelPadding":1.5,"titlePadding":4.5}},
    "y2":{"datum":-8}}},
  {"data":{"values":[{}]},"mark":{"type":"rect","color":"#ebebeb"},"encoding":{"x":{"datum":0},"x2":{"datum":7.9},"y":{"datum":8},"y2":{"datum":-8}}},
  {"data":{"values":[{}]},"mark":{"type":"rect","fill":"#e2e2e2","stroke":"#555555","strokeWidth":1,"cornerRadius":3},"encoding":{"x":{"datum":-6.67},"x2":{"datum":-2.17},"y":{"datum":7.5},"y2":{"datum":6.1}}},
  {"data":{"values":[{}]},"mark":{"type":"text","text":"Sector 65","fontSize":12,"color":"black"},"encoding":{"x":{"datum":-4.42},"y":{"datum":6.8}}},
  {"data":{"values":[{}]},"mark":{"type":"rule","color":"black","strokeWidth":1},"encoding":{"x":{"datum":-1.43},"x2":{"datum":-3.6},"y":{"datum":0}}},
  {"data":{"values":[{}]},"mark":{"type":"point","shape":"M1,-0.75L-1,0L1,0.75Z","filled":true,"fill":"#2f84c4","stroke":"black","strokeWidth":0.8,"size":121,"opacity":1},"encoding":{"x":{"datum":-3.86},"y":{"datum":0}}},
  {"data":{"values":[{}]},"mark":{"type":"text","text":"Earth","fontSize":12.5,"color":"black"},"encoding":{"x":{"datum":-2.82},"y":{"datum":0.95}}},
  {"data":{"name":"orbit"},"mark":{"type":"circle","size":18,"opacity":1},"encoding":{"x":{"field":"x","type":"quantitative","title":"Distance from star (au × 10²)"},"y":{"field":"y","type":"quantitative","title":"Distance from star (au × 10²)"},"color":{"field":"b","type":"nominal","scale":{"domain":["r","b","w"],"range":["#ff0000","#0000ff","#ffffff"]},"legend":null}}},
  {"data":{"values":[{}]},"mark":{"type":"point","shape":"M0,-1L0.2245,-0.309L0.951,-0.309L0.363,0.118L0.588,0.809L0,0.382L-0.588,0.809L-0.363,0.118L-0.951,-0.309L-0.2245,-0.309Z","filled":true,"color":"black","size":600,"opacity":1},"encoding":{"x":{"datum":0},"y":{"datum":0}}}
 ]
}
]
}
